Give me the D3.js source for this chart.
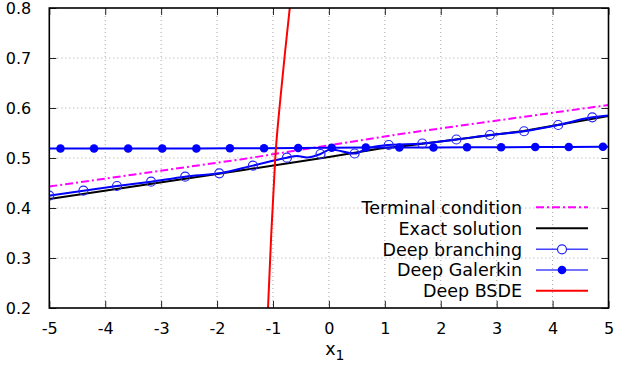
<!DOCTYPE html>
<html>
<head>
<meta charset="utf-8">
<script src="https://cdn.jsdelivr.net/npm/d3@7"></script>
<style>
  html, body { margin: 0; padding: 0; background: #fff; }
  svg { display: block; font-family: "DejaVu Sans", sans-serif; }
</style>
</head>
<body>
<svg id="chart" width="629" height="368"></svg>
<script>
// Axis ticks
const xTicks = [-5, -4, -3, -2, -1, 0, 1, 2, 3, 4, 5];
const yTicks = [0.2, 0.3, 0.4, 0.5, 0.6, 0.7, 0.8];

// Terminal condition (magenta dash-dot)
const terminalX = [-5, -1.585, 1.28, 5];
const terminalY = [0.443, 0.497, 0.548, 0.606];

// Exact solution (black)
const exactX = [-5, -2.3, -1.585, 0, 0.92, 1.28, 3.48, 5];
const exactY = [0.418, 0.463, 0.475, 0.502, 0.519, 0.523, 0.554, 0.584];

// Deep branching: curve and its open-circle markers
const branchX = [-5, -4.39, -3.79, -3.18, -2.57, -1.96, -1.36, -0.75, -0.57, -0.39, -0.15, 0.03, 0.46, 0.68, 1.07, 1.67, 2.28, 2.88, 3.49, 4.10, 4.71, 5];
const branchY = [0.4246, 0.4347, 0.444, 0.4527, 0.4627, 0.4693, 0.4847, 0.5007, 0.504, 0.501, 0.508, 0.517, 0.509, 0.519, 0.526, 0.529, 0.537, 0.546, 0.5535, 0.566, 0.5813, 0.585];
const branchMarkX = [-5, -4.39, -3.79, -3.18, -2.57, -1.96, -1.36, -0.75, -0.15, 0.46, 1.07, 1.67, 2.28, 2.88, 3.49, 4.10, 4.71];
const branchMarkY = [0.4246, 0.4347, 0.444, 0.4527, 0.4627, 0.4693, 0.4847, 0.5007, 0.508, 0.509, 0.526, 0.529, 0.537, 0.546, 0.5535, 0.566, 0.5813];

// Deep Galerkin: curve and its filled markers
const galerkinX = [-5, -4.80, -4.20, -3.59, -2.98, -2.37, -1.77, -1.16, -0.55, 0.05, 0.66, 1.26, 1.87, 2.47, 3.08, 3.69, 4.29, 4.90, 5];
const galerkinY = [0.519, 0.519, 0.519, 0.519, 0.519, 0.519, 0.5195, 0.5195, 0.520, 0.5205, 0.521, 0.521, 0.521, 0.5215, 0.5215, 0.522, 0.522, 0.5225, 0.5225];
const galerkinMarkX = [-4.80, -4.20, -3.59, -2.98, -2.37, -1.77, -1.16, -0.55, 0.05, 0.66, 1.26, 1.87, 2.47, 3.08, 3.69, 4.29, 4.90];
const galerkinMarkY = [0.519, 0.519, 0.519, 0.519, 0.519, 0.5195, 0.5195, 0.520, 0.5205, 0.521, 0.521, 0.521, 0.5215, 0.5215, 0.522, 0.522, 0.5225];

// Deep BSDE (red)
const bsdeX = [-1.089, -1.030, -0.959, -0.87, -0.78, -0.70, -0.66];
const bsdeY = [0.2, 0.35, 0.5, 0.616, 0.716, 0.8, 0.84];

const legendLabels = ["Terminal condition", "Exact solution", "Deep branching", "Deep Galerkin", "Deep BSDE"];

const svg = d3.select("#chart");
const plotLeft = 49.3, plotRight = 608.5, plotTop = 8, plotBottom = 308;

const x = d3.scaleLinear().domain([-5, 5]).range([plotLeft, plotRight]);
const y = d3.scaleLinear().domain([0.2, 0.8]).range([plotBottom, plotTop]);

svg.append("defs").append("clipPath").attr("id", "plotClip")
  .append("rect").attr("x", plotLeft).attr("y", plotTop)
  .attr("width", plotRight - plotLeft).attr("height", plotBottom - plotTop);

// Dotted grid
const grid = svg.append("g");
grid.selectAll("line.gx").data(xTicks.slice(1, -1)).join("line")
  .attr("x1", d => x(d)).attr("x2", d => x(d))
  .attr("y1", plotTop).attr("y2", plotBottom)
  .attr("stroke", "#a8a8a8").attr("stroke-width", 1).attr("stroke-dasharray", "1,3");
grid.selectAll("line.gy").data(yTicks.slice(1, -1)).join("line")
  .attr("y1", d => y(d)).attr("y2", d => y(d))
  .attr("x1", plotLeft).attr("x2", plotRight)
  .attr("stroke", "#a8a8a8").attr("stroke-width", 1).attr("stroke-dasharray", "1,3");

// Axes with inward ticks; labels use a plain hyphen for negatives
const tickLen = 7;
const xAxisB = d3.axisBottom(x).tickValues(xTicks).tickSize(-tickLen).tickPadding(tickLen + 8).tickFormat(d => String(d));
const xAxisT = d3.axisTop(x).tickValues(xTicks).tickSize(-tickLen).tickFormat("");
const yAxisL = d3.axisLeft(y).tickValues(yTicks).tickSize(-tickLen).tickPadding(tickLen + 11).tickFormat(d => d.toFixed(1));
const yAxisR = d3.axisRight(y).tickValues(yTicks).tickSize(-tickLen).tickFormat("");

function styleAxis(g) {
  g.select(".domain").remove();
  g.selectAll(".tick line").attr("stroke", "#222").attr("stroke-width", 1);
  g.selectAll(".tick text").attr("fill", "#000").style("font-size", "16px")
    .style("font-family", "'DejaVu Sans', sans-serif");
}
svg.append("g").attr("transform", `translate(0,${plotBottom})`).call(xAxisB).call(styleAxis);
svg.append("g").attr("transform", `translate(0,${plotTop})`).call(xAxisT).call(styleAxis);
svg.append("g").attr("transform", `translate(${plotLeft},0)`).call(yAxisL).call(styleAxis);
svg.append("g").attr("transform", `translate(${plotRight},0)`).call(yAxisR).call(styleAxis);

const plot = svg.append("g").attr("clip-path", "url(#plotClip)");
const line = d3.line().x(d => x(d[0])).y(d => y(d[1]));
const smooth = d3.line().x(d => x(d[0])).y(d => y(d[1])).curve(d3.curveMonotoneX);
const zip = (a, b) => a.map((v, i) => [v, b[i]]);

// Terminal condition
plot.append("path").datum(zip(terminalX, terminalY)).attr("d", line)
  .attr("fill", "none").attr("stroke", "#ff00ff").attr("stroke-width", 2)
  .attr("stroke-dasharray", "8,3,2,3");

// Exact solution
plot.append("path").datum(zip(exactX, exactY)).attr("d", line)
  .attr("fill", "none").attr("stroke", "#000").attr("stroke-width", 2);

// Deep Galerkin
plot.append("path").datum(zip(galerkinX, galerkinY)).attr("d", line)
  .attr("fill", "none").attr("stroke", "#0000ff").attr("stroke-width", 2);
plot.selectAll("circle.gal").data(zip(galerkinMarkX, galerkinMarkY)).join("circle")
  .attr("cx", d => x(d[0])).attr("cy", d => y(d[1])).attr("r", 4.3)
  .attr("fill", "#0000ff");

// Deep branching
plot.append("path").datum(zip(branchX, branchY)).attr("d", smooth)
  .attr("fill", "none").attr("stroke", "#0000ff").attr("stroke-width", 2);
plot.selectAll("circle.br").data(zip(branchMarkX, branchMarkY)).join("circle")
  .attr("cx", d => x(d[0])).attr("cy", d => y(d[1])).attr("r", 4.5)
  .attr("fill", "none").attr("stroke", "#2222ff").attr("stroke-width", 1.2);

// Deep BSDE
plot.append("path").datum(zip(bsdeX, bsdeY)).attr("d", smooth)
  .attr("fill", "none").attr("stroke", "#ff0000").attr("stroke-width", 2);

// Frame
svg.append("rect").attr("x", plotLeft).attr("y", plotTop)
  .attr("width", plotRight - plotLeft).attr("height", plotBottom - plotTop)
  .attr("fill", "none").attr("stroke", "#000").attr("stroke-width", 1.6);

// Axis title
svg.append("text").attr("x", x(0) + 6).attr("y", 355)
  .attr("text-anchor", "middle").style("font-size", "17.5px")
  .text("x").append("tspan").attr("dy", 5).style("font-size", "14px").text("1");

// Legend
const legend = svg.append("g");
const legendRows = [207.3, 228.3, 249.3, 270, 290.7];
const lx0 = 536, lx1 = 588, lmark = 562;
legendLabels.forEach((label, i) => {
  const ry = legendRows[i];
  legend.append("text").attr("x", 522).attr("y", ry).attr("dy", "0.36em")
    .attr("text-anchor", "end").style("font-size", "17.5px").text(label);
  const l = legend.append("line").attr("x1", lx0).attr("x2", lx1).attr("y1", ry).attr("y2", ry);
  if (i === 0) l.attr("stroke", "#ff00ff").attr("stroke-width", 2).attr("stroke-dasharray", "8,3,2,3");
  if (i === 1) l.attr("stroke", "#000").attr("stroke-width", 2);
  if (i === 2 || i === 3) l.attr("stroke", "#4444ff").attr("stroke-width", 1.5);
  if (i === 4) l.attr("stroke", "#ff0000").attr("stroke-width", 2);
  if (i === 2) legend.append("circle").attr("cx", lmark).attr("cy", ry).attr("r", 4.5)
    .attr("fill", "#fff").attr("stroke", "#2222ff").attr("stroke-width", 1.2);
  if (i === 3) legend.append("circle").attr("cx", lmark).attr("cy", ry).attr("r", 4.3)
    .attr("fill", "#0000ff");
});
</script>
</body>
</html>
